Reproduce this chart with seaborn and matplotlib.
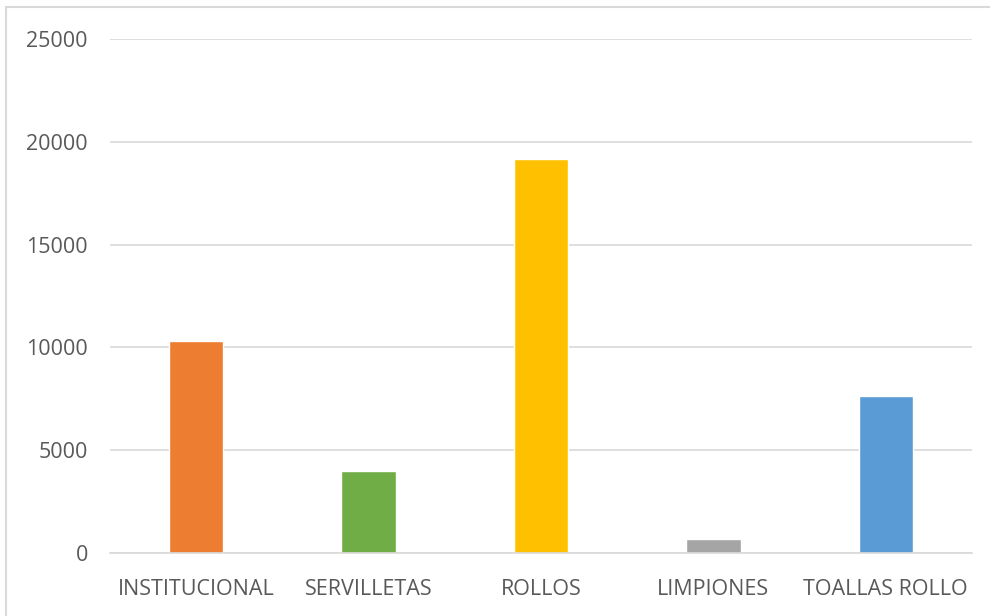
import matplotlib
matplotlib.use("Agg")
import matplotlib.pyplot as plt
from matplotlib.patches import Rectangle
import seaborn as sns
import pandas as pd

categories = ["INSTITUCIONAL", "SERVILLETAS", "ROLLOS", "LIMPIONES", "TOALLAS ROLLO"]
values = [10300, 4000, 19150, 700, 7650]
colors = ["#ED7D31", "#70AD47", "#FFC000", "#A5A5A5", "#5B9BD5"]
yticks = [0, 5000, 10000, 15000, 20000, 25000]

df = pd.DataFrame({"categoria": categories, "valor": values})

sns.set_theme(style="white")
plt.rcParams["font.family"] = ["Open Sans", "DejaVu Sans"]

fig = plt.figure(figsize=(9.9, 6.16), dpi=100)
fig.patch.set_facecolor("white")
ax = fig.add_axes([110 / 990, 1 - 553 / 616, (972 - 110) / 990, (553 - 39) / 616])

sns.barplot(data=df, x="categoria", y="valor", hue="categoria",
            palette=colors, width=0.315, legend=False, ax=ax, saturation=1)

ax.set_ylim(0, 25000)
ax.set_yticks(yticks)
ax.set_yticklabels([str(v) for v in yticks])
ax.set_xlabel("")
ax.set_ylabel("")
ax.yaxis.grid(True, color="#D9D9D9", linewidth=1.2)
ax.set_axisbelow(True)
for side in ["left", "right", "top"]:
    ax.spines[side].set_visible(False)
ax.spines["bottom"].set_color("#D9D9D9")
ax.spines["bottom"].set_linewidth(1.2)
ax.tick_params(axis="both", length=0, labelsize=15.5, labelcolor="#595959")
ax.tick_params(axis="y", pad=16)
ax.tick_params(axis="x", pad=18.5)

# Chart-area frame
fig.add_artist(Rectangle((6 / 990, -0.1), 1.1, 1 - 7 / 616 + 0.1,
                         transform=fig.transFigure, fill=False,
                         edgecolor="#D9D9D9", linewidth=1.5))

fig.savefig("out.png", dpi=100)
